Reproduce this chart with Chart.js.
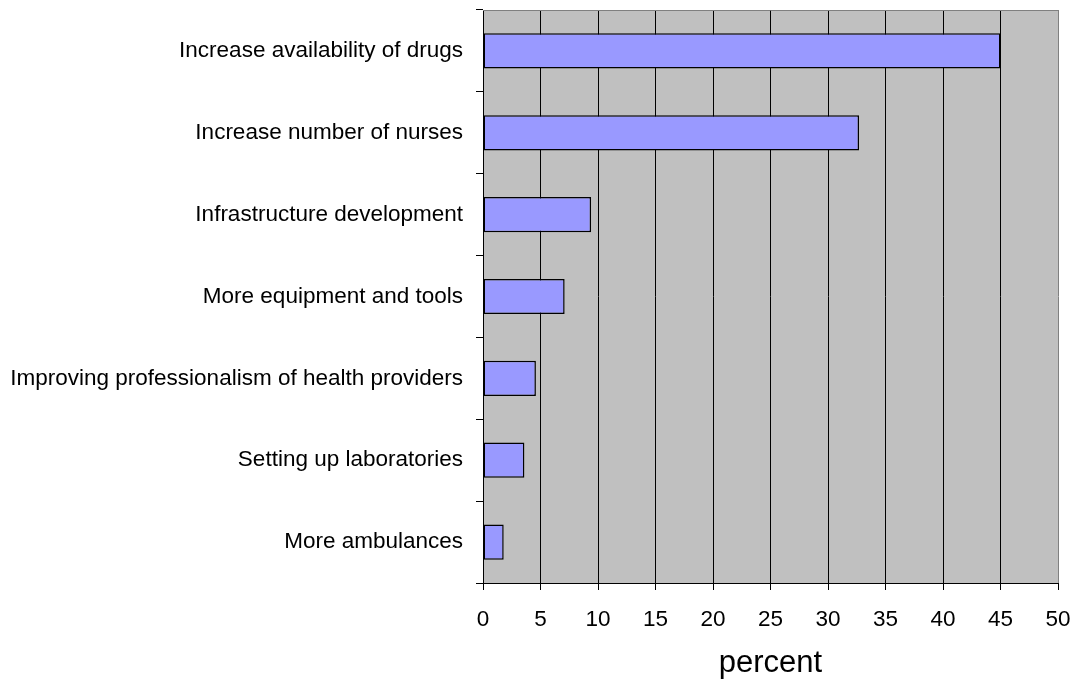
<!DOCTYPE html>
<html>
<head>
<meta charset="utf-8">
<script src="https://cdn.jsdelivr.net/npm/chart.js@4/dist/chart.umd.min.js"></script>
<style>
  html, body { margin: 0; padding: 0; background: #ffffff; }
  #wrap { width: 1079px; height: 682px; }
</style>
</head>
<body>
<div id="wrap"><canvas id="c" width="1079" height="682"></canvas></div>
<script>
const categories = [
  'Increase availability of drugs',
  'Increase number of nurses',
  'Infrastructure development',
  'More equipment and tools',
  'Improving professionalism of health providers',
  'Setting up laboratories',
  'More ambulances'
];
const percentValues = [45.0, 32.7, 9.4, 7.1, 4.6, 3.6, 1.8];
const xTickValues = [0, 5, 10, 15, 20, 25, 30, 35, 40, 45, 50];
const xTitle = 'percent';

const FONT = "'Liberation Sans', Arial, sans-serif";

// Grey plot background and the light top border of the plot frame
const plotFrame = {
  id: 'plotFrame',
  beforeDraw(chart) {
    const { ctx, chartArea: a } = chart;
    ctx.save();
    ctx.fillStyle = '#c0c0c0';
    ctx.fillRect(a.left, a.top, a.right - a.left, a.bottom - a.top);
    ctx.restore();
  },
  afterDatasetsDraw(chart) {
    const { ctx, chartArea: a } = chart;
    ctx.save();
    ctx.strokeStyle = '#808080';
    ctx.lineWidth = 1;
    ctx.beginPath();
    ctx.moveTo(a.left, Math.round(a.top) + 0.5);
    ctx.lineTo(a.right, Math.round(a.top) + 0.5);
    ctx.stroke();
    ctx.restore();
  }
};

new Chart(document.getElementById('c'), {
  type: 'bar',
  data: {
    labels: categories,
    datasets: [{
      data: percentValues,
      backgroundColor: '#9999ff',
      borderColor: '#000000',
      borderWidth: 1.5,
      borderSkipped: false,
      barPercentage: 0.43,
      categoryPercentage: 1.0
    }]
  },
  options: {
    indexAxis: 'y',
    responsive: false,
    animation: false,
    devicePixelRatio: 1,
    layout: { padding: { top: 10, right: 21, bottom: 0, left: 0 } },
    plugins: {
      legend: { display: false },
      tooltip: { enabled: false }
    },
    scales: {
      x: {
        type: 'linear',
        min: 0,
        max: 50,
        afterBuildTicks(scale) {
          scale.ticks = xTickValues.map(v => ({ value: v }));
        },
        afterFit(scale) {
          scale.height = 99;
          scale.paddingLeft = 0;
          scale.paddingRight = 0;
        },
        border: { display: true, color: '#000000', width: 1 },
        grid: {
          color: ctx => (ctx.tick && ctx.tick.value === 50 ? '#808080' : '#000000'),
          lineWidth: 1,
          drawTicks: true,
          tickLength: 7,
          tickColor: '#000000'
        },
        ticks: {
          color: '#000000',
          font: { family: FONT, size: 22.5 },
          padding: 16,
          maxRotation: 0
        },
        title: {
          display: true,
          text: xTitle,
          color: '#000000',
          font: { family: FONT, size: 31 },
          padding: { top: 4, bottom: 0 }
        }
      },
      y: {
        type: 'category',
        afterFit(scale) {
          scale.width = 483;
          scale.paddingTop = 0;
          scale.paddingBottom = 0;
        },
        border: { display: true, color: '#000000', width: 1 },
        grid: {
          offset: true,
          drawOnChartArea: false,
          drawTicks: true,
          tickLength: 7,
          tickColor: '#000000'
        },
        ticks: {
          color: '#000000',
          font: { family: FONT, size: 22.5 },
          padding: 13,
          autoSkip: false
        }
      }
    }
  },
  plugins: [plotFrame]
});
</script>
</body>
</html>
